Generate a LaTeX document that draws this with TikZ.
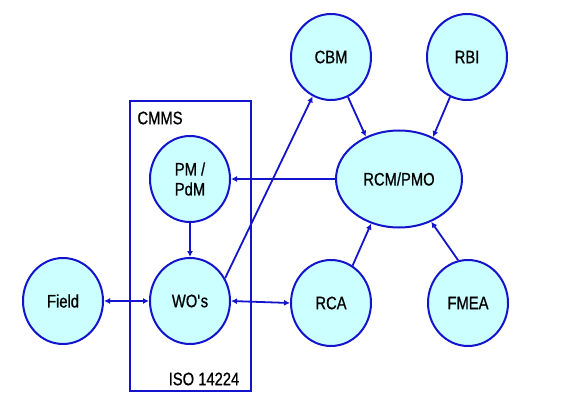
\documentclass[tikz,border=0pt]{standalone}
\usepackage{fontspec}
\setmainfont[FakeStretch=0.82,FakeBold=0.8]{Liberation Sans}
\usetikzlibrary{arrows.meta,shapes.geometric}
\definecolor{lineblue}{RGB}{20,20,205}
\definecolor{bubblecyan}{RGB}{204,255,255}

\begin{document}
\begin{tikzpicture}[x=1pt,y=-1pt,
    font=\fontsize{18}{20}\selectfont,
    bubble/.style={ellipse,draw=lineblue,line width=2pt,fill=bubblecyan,
      minimum width=80pt,minimum height=86pt,inner sep=0pt,align=center},
    link/.style={lineblue,line width=1.8pt,-{Latex[length=6pt,width=6pt]}},
    twoway/.style={lineblue,line width=1.8pt,
      {Latex[length=6pt,width=6pt]}-{Latex[length=6pt,width=6pt]}}]
    \useasboundingbox (0,0) rectangle (564,403);

    \node (cmms) at (190.5,246) [draw=lineblue,line width=2.8pt,minimum width=121pt,minimum height=290pt] {};
    \node (cmmslabel) at (160,118) {CMMS};
    \node (isolabel) at (204,379) {ISO 14224};

    \node (cbm) at (331,57) [bubble] {CBM};
    \node (rbi) at (467,57) [bubble] {RBI};
    \node (rcm) at (399,179) [bubble,minimum width=126pt,minimum height=97pt] {RCM/PMO};
    \node (pm) at (190,179) [bubble] {PM /\\PdM};
    \node (wo) at (190,301) [bubble] {WO\textquotesingle s};
    \node (field) at (63,301) [bubble] {Field};
    \node (rca) at (331,303) [bubble] {RCA};
    \node (fmea) at (468,303) [bubble] {FMEA};

    \draw [link] (pm) -- (wo);
    \draw [link] (wo.33) -- (cbm.-115);
    \draw [link] (rcm.west) -- (pm.east);
    \draw [link] (cbm.-67) -- (rcm.128);
    \draw [link] (rbi.-113) -- (rcm.51);
    \draw [link] (rca.60) -- (rcm.-122);
    \draw [link] (fmea.103) -- (rcm.-53);
    \draw [twoway] (field.east) -- (wo.west);
    \draw [twoway] (wo.east) -- (rca.west);
\end{tikzpicture}
\end{document}
